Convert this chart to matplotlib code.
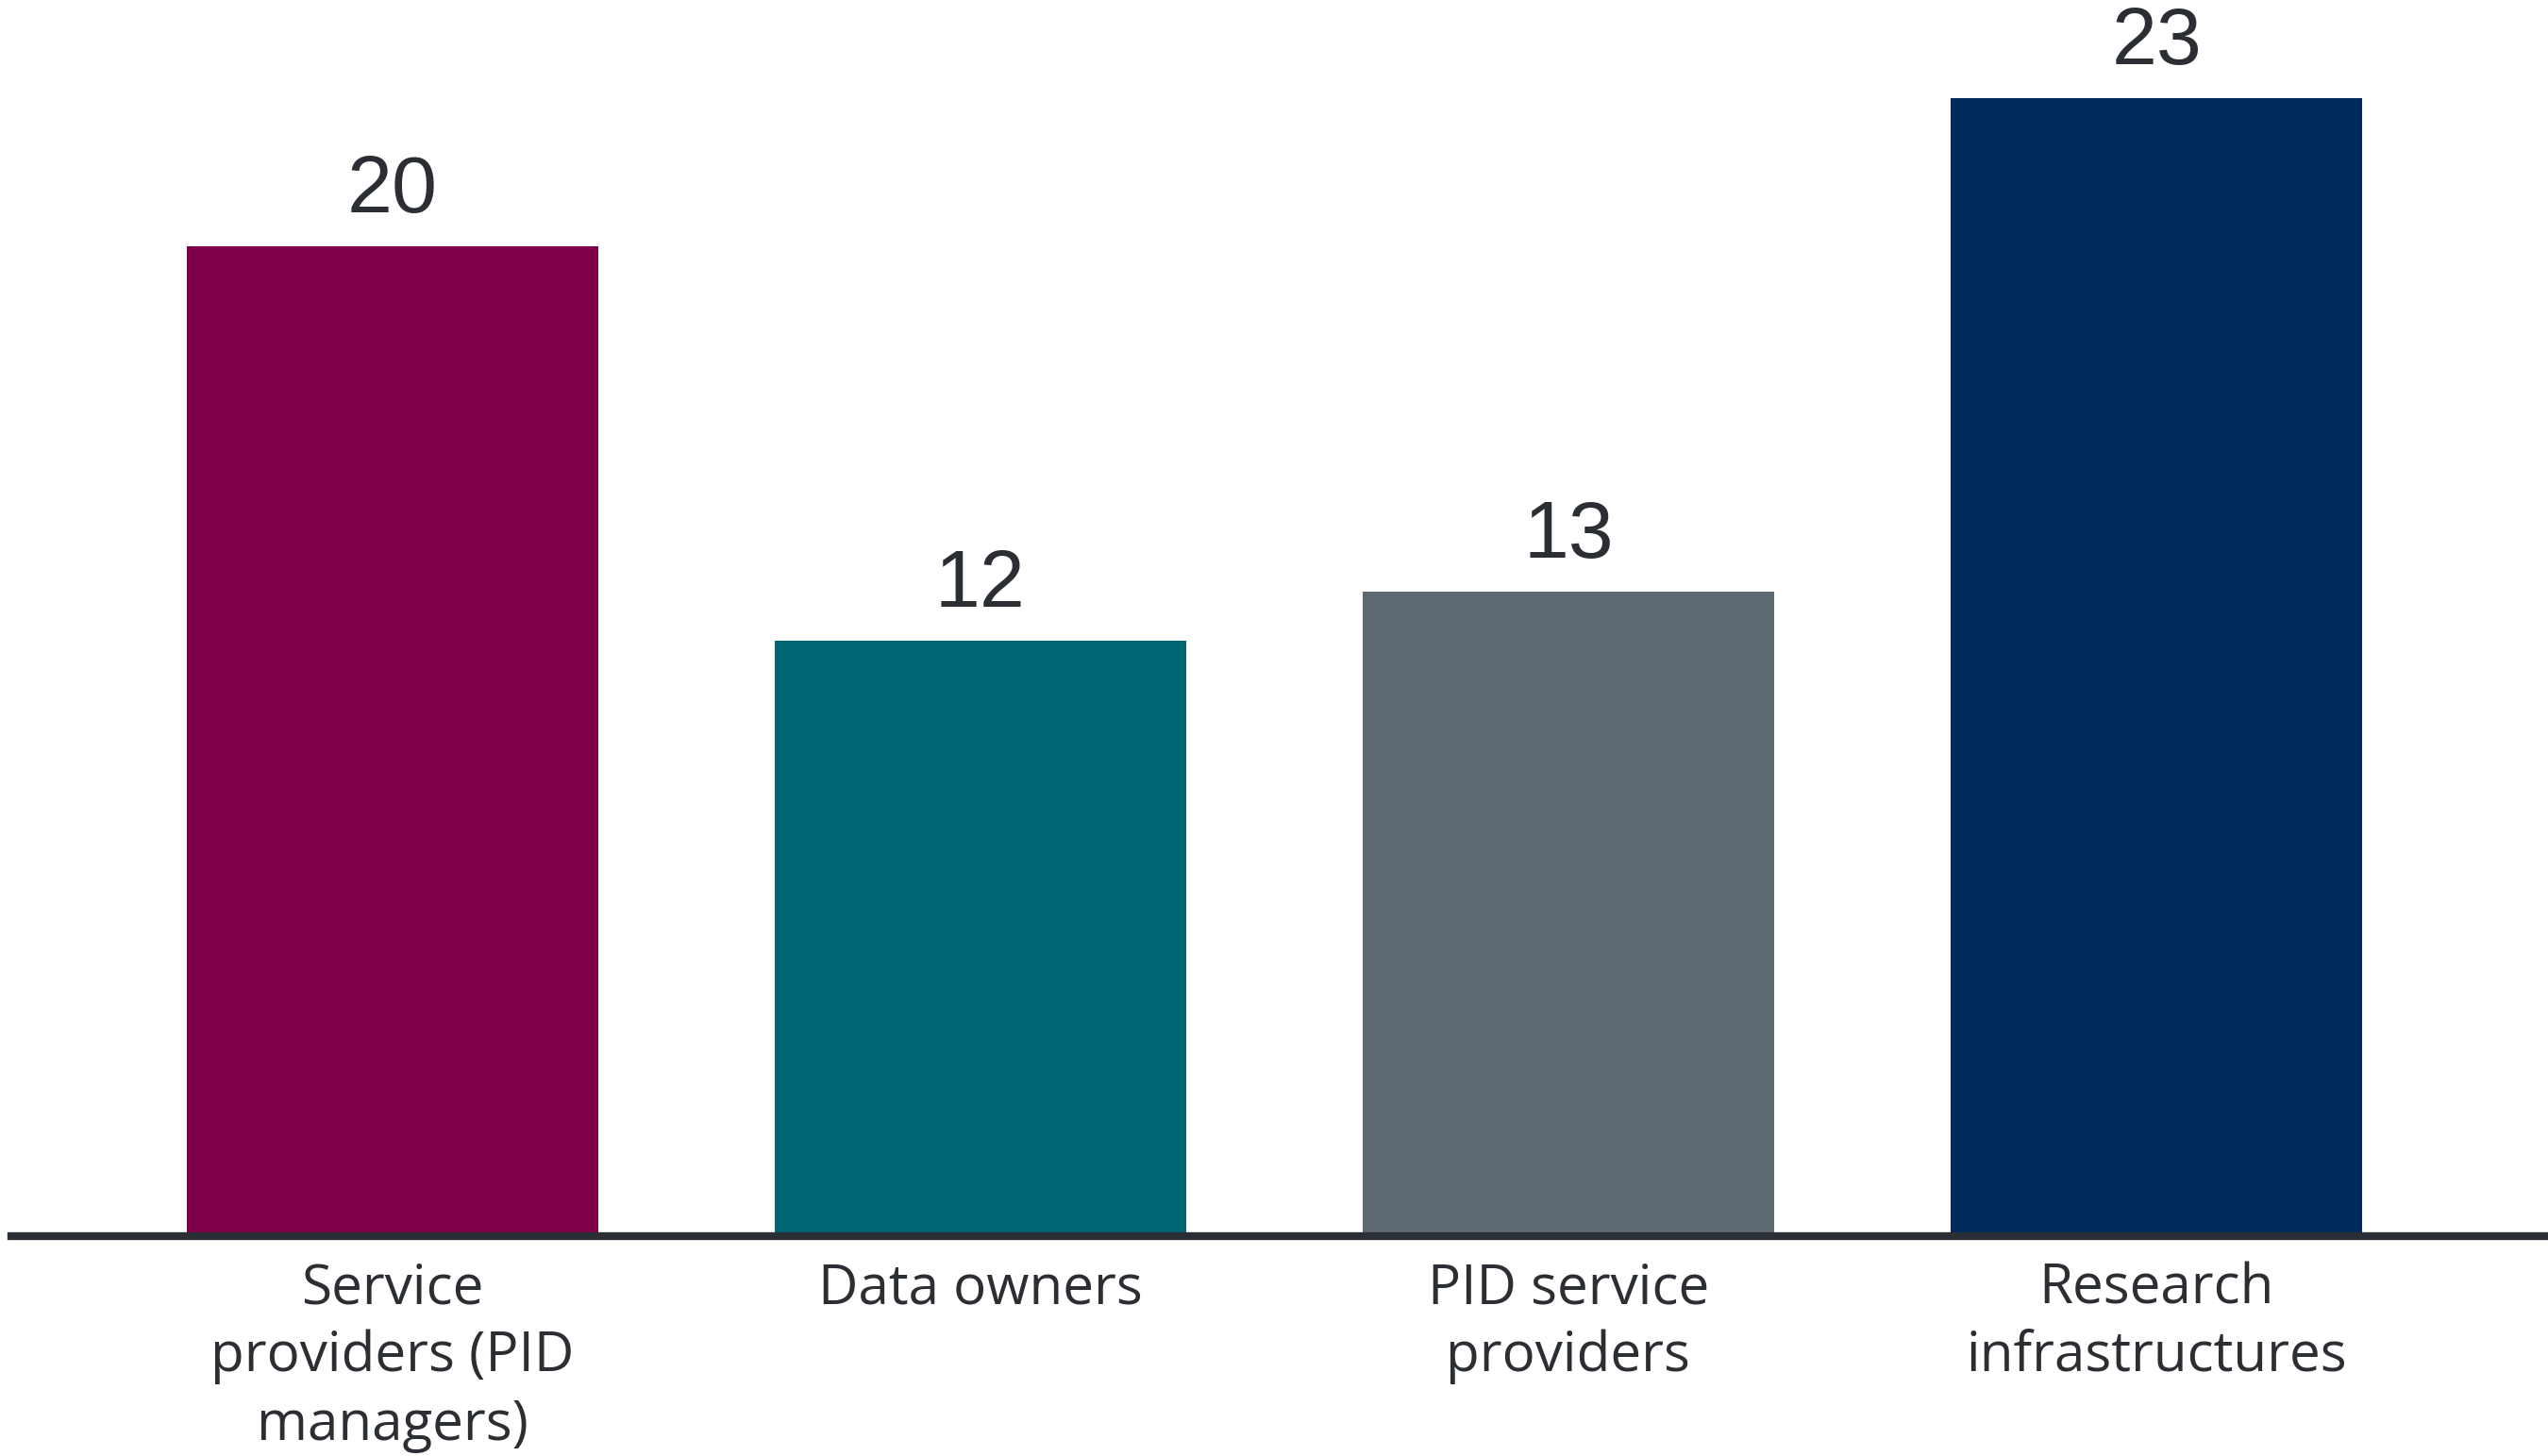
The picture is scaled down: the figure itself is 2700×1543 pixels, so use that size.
import matplotlib.pyplot as plt
import numpy as np

# dades del grafic
categories = ["Service\nproviders (PID\nmanagers)", "Data owners",
              "PID service\nproviders", "Research\ninfrastructures"]
valors = [20, 12, 13, 23]
colors = ["#7f0049", "#006674", "#5e6a72", "#002a5c"]

fig = plt.figure(figsize=(27, 15.43), dpi=100)
ax = fig.add_axes([12 / 2700, (1543 - 1306) / 1543, 1 - 12 / 2700, 1306 / 1543])

# linia base (abans de les etiquetes: set_position reinicia l'eix)
for s in ["top", "right", "left"]:
    ax.spines[s].set_visible(False)
ax.spines["bottom"].set_position(("data", -0.08))
ax.spines["bottom"].set_color("#2a2e35")
ax.spines["bottom"].set_linewidth(6)

x = np.arange(len(valors))
bars = ax.bar(x, valors, width=0.7, color=colors)

# etiquetes de valor sobre cada barra
for b, v in zip(bars, valors):
    ax.annotate(str(v), (b.get_x() + b.get_width() / 2, v),
                xytext=(0, 13), textcoords="offset points",
                ha="center", va="bottom", fontsize=62,
                family="Liberation Sans", color="#2b2e33")

ax.set_xlim(-0.648, 3.666)
ax.set_ylim(0, 25)
ax.set_xticks(x)
ax.set_xticklabels(categories, fontsize=42, family="Open Sans", color="#2b2e33",
                   linespacing=1.31, va="top")
ax.tick_params(axis="x", length=0, pad=19)
ax.set_yticks([])

fig.savefig("out.png", dpi=100)
